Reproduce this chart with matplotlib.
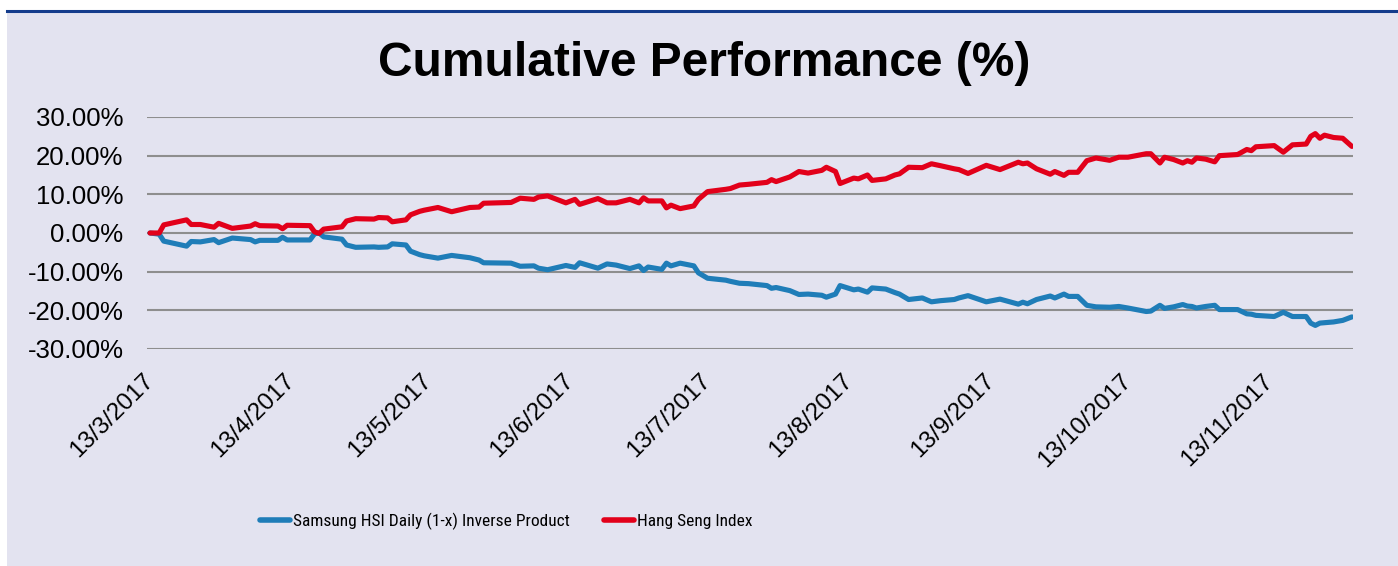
import pandas as pd
import matplotlib
matplotlib.use('Agg')
import matplotlib.pyplot as plt
import matplotlib.dates as mdates
from matplotlib.ticker import PercentFormatter, FuncFormatter
from matplotlib.transforms import ScaledTranslation
from matplotlib.patches import Rectangle
from matplotlib import font_manager
from matplotlib.font_manager import FontProperties

# === Data (% cumulative) ===
dates = [
    '13/3/2017', '15/3/2017', '16/3/2017', '21/3/2017', '22/3/2017', '24/3/2017', '27/3/2017',
    '28/3/2017', '31/3/2017', '4/4/2017', '5/4/2017', '6/4/2017', '10/4/2017', '11/4/2017',
    '12/4/2017', '17/4/2017', '18/4/2017', '19/4/2017', '20/4/2017', '24/4/2017', '25/4/2017',
    '27/4/2017', '1/5/2017', '2/5/2017', '4/5/2017', '5/5/2017', '8/5/2017', '9/5/2017',
    '11/5/2017', '12/5/2017', '15/5/2017', '18/5/2017', '22/5/2017', '24/5/2017', '25/5/2017',
    '31/5/2017', '2/6/2017', '5/6/2017', '6/6/2017', '8/6/2017', '12/6/2017', '14/6/2017',
    '15/6/2017', '19/6/2017', '21/6/2017', '23/6/2017', '26/6/2017', '28/6/2017', '29/6/2017',
    '30/6/2017', '3/7/2017', '4/7/2017', '5/7/2017', '7/7/2017', '10/7/2017', '11/7/2017',
    '13/7/2017', '17/7/2017', '18/7/2017', '20/7/2017', '22/7/2017', '26/7/2017', '27/7/2017',
    '28/7/2017', '31/7/2017', '2/8/2017', '4/8/2017', '7/8/2017', '8/8/2017', '10/8/2017',
    '11/8/2017', '14/8/2017', '15/8/2017', '17/8/2017', '18/8/2017', '21/8/2017', '23/8/2017',
    '24/8/2017', '26/8/2017', '29/8/2017', '31/8/2017', '2/9/2017', '5/9/2017', '6/9/2017',
    '8/9/2017', '12/9/2017', '15/9/2017', '19/9/2017', '20/9/2017', '21/9/2017', '23/9/2017',
    '26/9/2017', '27/9/2017', '29/9/2017', '30/9/2017', '2/10/2017', '4/10/2017', '6/10/2017',
    '9/10/2017', '11/10/2017', '13/10/2017', '17/10/2017', '18/10/2017', '20/10/2017',
    '21/10/2017', '23/10/2017', '25/10/2017', '26/10/2017', '27/10/2017', '28/10/2017',
    '30/10/2017', '1/11/2017', '2/11/2017', '6/11/2017', '8/11/2017', '9/11/2017', '10/11/2017',
    '14/11/2017', '16/11/2017', '18/11/2017', '21/11/2017', '22/11/2017', '23/11/2017',
    '24/11/2017', '25/11/2017', '27/11/2017', '29/11/2017', '1/12/2017',
]

hsi = [
    0.0, 0.0, 2.1, 3.4, 2.2, 2.2, 1.5,
    2.5, 1.2, 1.8, 2.4, 1.9, 1.8, 1.1,
    2.0, 1.9, 0.3, -0.1, 1.0, 1.6, 3.1,
    3.7, 3.6, 4.0, 3.9, 2.9, 3.4, 4.7,
    5.6, 5.9, 6.6, 5.5, 6.6, 6.7, 7.7,
    7.9, 9.0, 8.7, 9.3, 9.6, 7.8, 8.7,
    7.4, 8.9, 7.8, 7.8, 8.7, 7.8, 9.1,
    8.3, 8.3, 6.5, 7.2, 6.3, 7.0, 8.7,
    10.7, 11.3, 11.5, 12.4, 12.6, 13.1, 13.8,
    13.3, 14.5, 15.9, 15.5, 16.2, 17.0, 15.9,
    12.8, 14.2, 14.0, 15.0, 13.6, 14.0, 15.0,
    15.3, 17.0, 16.9, 17.9, 17.4, 16.6, 16.4,
    15.4, 17.5, 16.4, 18.3, 17.9, 18.1, 16.6,
    15.2, 15.9, 14.9, 15.7, 15.7, 18.7, 19.4,
    18.8, 19.6, 19.6, 20.5, 20.5, 18.1,
    19.6, 19.0, 18.1, 18.7, 18.3, 19.4,
    19.1, 18.4, 20.0, 20.3, 21.6, 21.3, 22.3,
    22.6, 20.9, 22.8, 23.0, 25.0, 25.7,
    24.5, 25.3, 24.7, 24.5, 22.4,
]

inverse = [
    0.0, -0.3, -2.1, -3.4, -2.2, -2.3, -1.7,
    -2.5, -1.3, -1.7, -2.3, -1.9, -1.9, -1.1,
    -1.8, -1.8, -0.2, 0.0, -1.0, -1.6, -3.1,
    -3.7, -3.6, -3.7, -3.6, -2.8, -3.1, -4.7,
    -5.6, -5.9, -6.5, -5.8, -6.4, -7.0, -7.7,
    -7.8, -8.6, -8.5, -9.1, -9.5, -8.4, -8.9,
    -7.7, -9.1, -8.0, -8.3, -9.2, -8.5, -9.7,
    -8.8, -9.4, -7.8, -8.5, -7.8, -8.5, -10.3,
    -11.7, -12.2, -12.5, -13.0, -13.1, -13.6, -14.3,
    -14.1, -14.9, -15.9, -15.8, -16.1, -16.6, -15.8,
    -13.6, -14.7, -14.5, -15.3, -14.2, -14.5, -15.4,
    -15.8, -17.2, -16.8, -17.8, -17.5, -17.2, -16.8,
    -16.2, -17.8, -17.1, -18.4, -17.9, -18.3, -17.2,
    -16.3, -16.8, -15.8, -16.4, -16.4, -18.7, -19.1,
    -19.2, -19.0, -19.4, -20.3, -20.2, -18.7,
    -19.5, -19.1, -18.5, -18.9, -19.0, -19.4,
    -19.0, -18.7, -19.8, -19.8, -20.9, -21.0, -21.3,
    -21.6, -20.5, -21.6, -21.6, -23.3, -23.9,
    -23.3, -23.2, -23.0, -22.6, -21.7,
]

series_names = ['Samsung HSI Daily (1-x) Inverse Product', 'Hang Seng Index']
title = 'Cumulative Performance (%)'
y_ticks = [-30, -20, -10, 0, 10, 20, 30]

df = pd.DataFrame({
    'date': pd.to_datetime(dates, format='%d/%m/%Y'),
    'inverse': inverse,
    'hsi': hsi,
})

# === Style ===
BG = '#E3E3F0'
BLUE = '#1F7DB8'
RED = '#E2001A'
GRID = '#8E8E8E'

plt.rcParams['font.family'] = ['Liberation Sans', 'DejaVu Sans']
plt.rcParams['axes.unicode_minus'] = False

# legend text in the reference is a narrow face: use a condensed font if one is installed
fonts = font_manager.fontManager.ttflist
condensed = [f for f in fonts if f.style == 'normal' and f.weight in (400, 'normal', 'regular')
             and (str(f.stretch) in ('condensed', 'semi-condensed', '75', '87')
                  or 'Narrow' in f.name or 'Condensed' in f.name)]
condensed.sort(key=lambda f: (0 if 'Liberation' in f.name else 1 if 'Roboto' in f.name else 2))
if condensed:
    leg_font = FontProperties(fname=condensed[0].fname, size=12.5)
else:
    leg_font = FontProperties(family='Liberation Sans', size=11.5)

W, H = 1398, 566
fig = plt.figure(figsize=(W / 100, H / 100), dpi=100, facecolor='white')

# === Panel background + top rule ===
fig.patches.append(Rectangle((7 / W, 0), 1 - 7 / W, 1 - 12 / H, transform=fig.transFigure,
                             facecolor=BG, edgecolor='none', zorder=-5))
fig.add_artist(plt.Line2D([7 / W, 1], [1 - 11 / H, 1 - 11 / H], transform=fig.transFigure,
                          color='#143C8C', lw=2.2, zorder=1))

ax = fig.add_axes([147 / W, 1 - 349 / H, (1353 - 147) / W, (349 - 117) / H], zorder=2)
ax.patch.set_alpha(0)

ax.plot(df['date'], df['inverse'], color=BLUE, lw=3.7, solid_joinstyle='round',
        solid_capstyle='round', label=series_names[0], zorder=3)
ax.plot(df['date'], df['hsi'], color=RED, lw=3.7, solid_joinstyle='round',
        solid_capstyle='round', label=series_names[1], zorder=3)

ax.set_ylim(-30, 30)
ax.set_yticks(y_ticks)
ax.yaxis.set_major_formatter(PercentFormatter(decimals=2))
ax.grid(axis='y', color=GRID, lw=1.5, zorder=1)
ax.set_axisbelow(True)
for s in ax.spines.values():
    s.set_visible(False)

ax.set_xlim(pd.Timestamp('2017-03-12 08:00'), pd.Timestamp('2017-12-01 06:00'))
ax.xaxis.set_major_locator(mdates.DayLocator(bymonthday=13))
ax.xaxis.set_major_formatter(FuncFormatter(
    lambda v, pos: '{d.day}/{d.month}/{d.year}'.format(d=mdates.num2date(v))))

ax.tick_params(axis='y', length=0, pad=17, labelsize=18.5, labelcolor='black')
ax.tick_params(axis='x', length=0, pad=0, labelsize=17.5, labelcolor='black')

fig.canvas.draw()
offset = ScaledTranslation(0.0, -0.285, fig.dpi_scale_trans)
for lab in ax.get_xticklabels():
    lab.set_rotation(45)
    lab.set_ha('right')
    lab.set_va('center')
    lab.set_rotation_mode('anchor')
    lab.set_transform(lab.get_transform() + offset)

fig.text(0.5035, 1 - 76 / H, title, ha='center', va='baseline',
         fontsize=34.5, fontweight='bold', color='black')

# === Legend ===
fs_px = leg_font.get_size_in_points() * 100 / 72
leg = fig.legend(loc='center left', bbox_to_anchor=(260 / W, 1 - 521 / H), ncol=2,
                 frameon=False, borderpad=0, borderaxespad=0,
                 handlelength=30 / fs_px, handletextpad=3 / fs_px, columnspacing=34 / fs_px,
                 prop=leg_font)
for line in leg.get_lines():
    line.set_linewidth(4)
    line.set_solid_capstyle('round')

fig.savefig('out.png', dpi=100, facecolor='white')
